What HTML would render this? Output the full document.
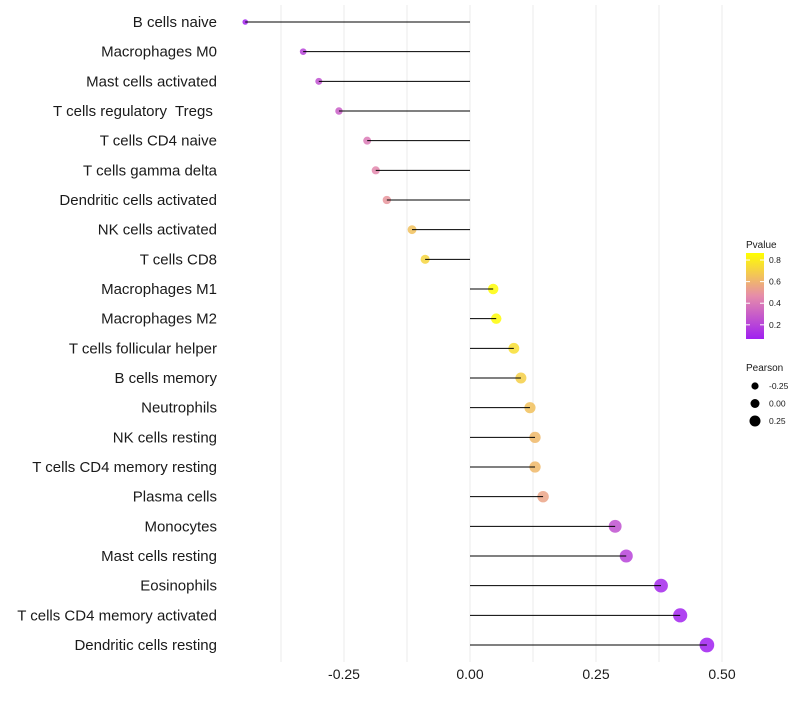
<!DOCTYPE html>
<html><head><meta charset="utf-8"><style>
body{margin:0;background:#fff;font-family:"Liberation Sans",sans-serif}
text{white-space:pre}
</style></head><body>
<svg id="chart" width="800" height="700" xmlns="http://www.w3.org/2000/svg"></svg>
<script>
const categories=["B cells naive","Macrophages M0","Mast cells activated","T cells regulatory  Tregs ","T cells CD4 naive","T cells gamma delta","Dendritic cells activated","NK cells activated","T cells CD8","Macrophages M1","Macrophages M2","T cells follicular helper","B cells memory","Neutrophils","NK cells resting","T cells CD4 memory resting","Plasma cells","Monocytes","Mast cells resting","Eosinophils","T cells CD4 memory activated","Dendritic cells resting"];
const pearson=[-0.446,-0.331,-0.300,-0.260,-0.204,-0.187,-0.165,-0.115,-0.089,0.046,0.052,0.087,0.101,0.119,0.129,0.129,0.145,0.288,0.310,0.379,0.417,0.470];
const pvalue=[0.08,0.2,0.25,0.3,0.4,0.45,0.5,0.65,0.72,0.85,0.85,0.75,0.7,0.65,0.62,0.62,0.55,0.25,0.2,0.1,0.08,0.06];
const xTicks=[-0.25,0,0.25,0.5];
const xTickLabels=["-0.25","0.00","0.25","0.50"];
const gridVals=[-0.375,-0.25,-0.125,0,0.125,0.25,0.375,0.5];
const svg=document.getElementById('chart');
const NS="http://www.w3.org/2000/svg";
function mk(t,a,p){const e=document.createElementNS(NS,t);for(const k in a)e.setAttribute(k,a[k]);(p||svg).appendChild(e);return e;}
const xs=v=>470+v*504;
const ys=i=>22+i*(623/21);
const rs=v=>Math.max(2,5+5*v);
function lerp(a,b,t){return a.map((x,i)=>Math.round(x+(b[i]-x)*t));}
function col(p){const t=Math.min(1,Math.max(0,(p-0.07)/(0.865-0.07)));
 const lo=[160,32,240],mid=[230,140,170],hi=[255,255,0];
 const c=t<0.5?lerp(lo,mid,t/0.5):lerp(mid,hi,(t-0.5)/0.5);return `rgb(${c})`;}
gridVals.forEach(v=>{const g=mk('line',{x1:xs(v),x2:xs(v),y1:5,y2:662,stroke:'#ebebeb','stroke-width':1});
});
categories.forEach((c,i)=>{const y=ys(i);
 const d=mk('circle',{cx:xs(pearson[i]),cy:y,r:rs(pearson[i]),fill:col(pvalue[i]),'fill-opacity':0.85});
 
 const l=mk('line',{x1:xs(0),x2:xs(pearson[i]),y1:y,y2:y,stroke:'#000','stroke-width':1});
 
 const t=mk('text',{x:217,y:y+5,'text-anchor':'end','font-size':15,fill:'#1a1a1a'});t.textContent=c;
 });
xTicks.forEach((v,i)=>{const t=mk('text',{x:xs(v),y:679,'text-anchor':'middle','font-size':14,fill:'#1a1a1a'});t.textContent=xTickLabels[i];
 });
const defs=mk('defs',{});const gr=mk('linearGradient',{id:'pg',x1:0,y1:1,x2:0,y2:0},defs);
[0,0.25,0.5,0.75,1].forEach(t=>mk('stop',{offset:t,'stop-color':col(0.07+t*(0.795))},gr));
const lt=mk('text',{x:746,y:248,'font-size':10,fill:'#1a1a1a'});lt.textContent='Pvalue';

const bar=mk('rect',{x:746,y:253,width:18,height:86,fill:'url(#pg)'});

[0.8,0.6,0.4,0.2].forEach(v=>{const y=253+(0.865-v)*108;
 mk('line',{x1:746,x2:750,y1:y,y2:y,stroke:'#fff'});mk('line',{x1:760,x2:764,y1:y,y2:y,stroke:'#fff'});
 const t=mk('text',{x:769,y:y+3,'font-size':8.5,fill:'#1a1a1a'});t.textContent=v.toFixed(1);
 });
const st=mk('text',{x:746,y:371,'font-size':10,fill:'#1a1a1a'});st.textContent='Pearson';

[[-0.25,3.6],[0,4.5],[0.25,5.5]].forEach(([v,r],i)=>{const y=386+i*17.5;
 const c=mk('circle',{cx:755,cy:y,r:r,fill:'#000'});
 const t=mk('text',{x:769,y:y+3,'font-size':8.5,fill:'#1a1a1a'});t.textContent=v.toFixed(2);
 });
</script>
</body></html>
